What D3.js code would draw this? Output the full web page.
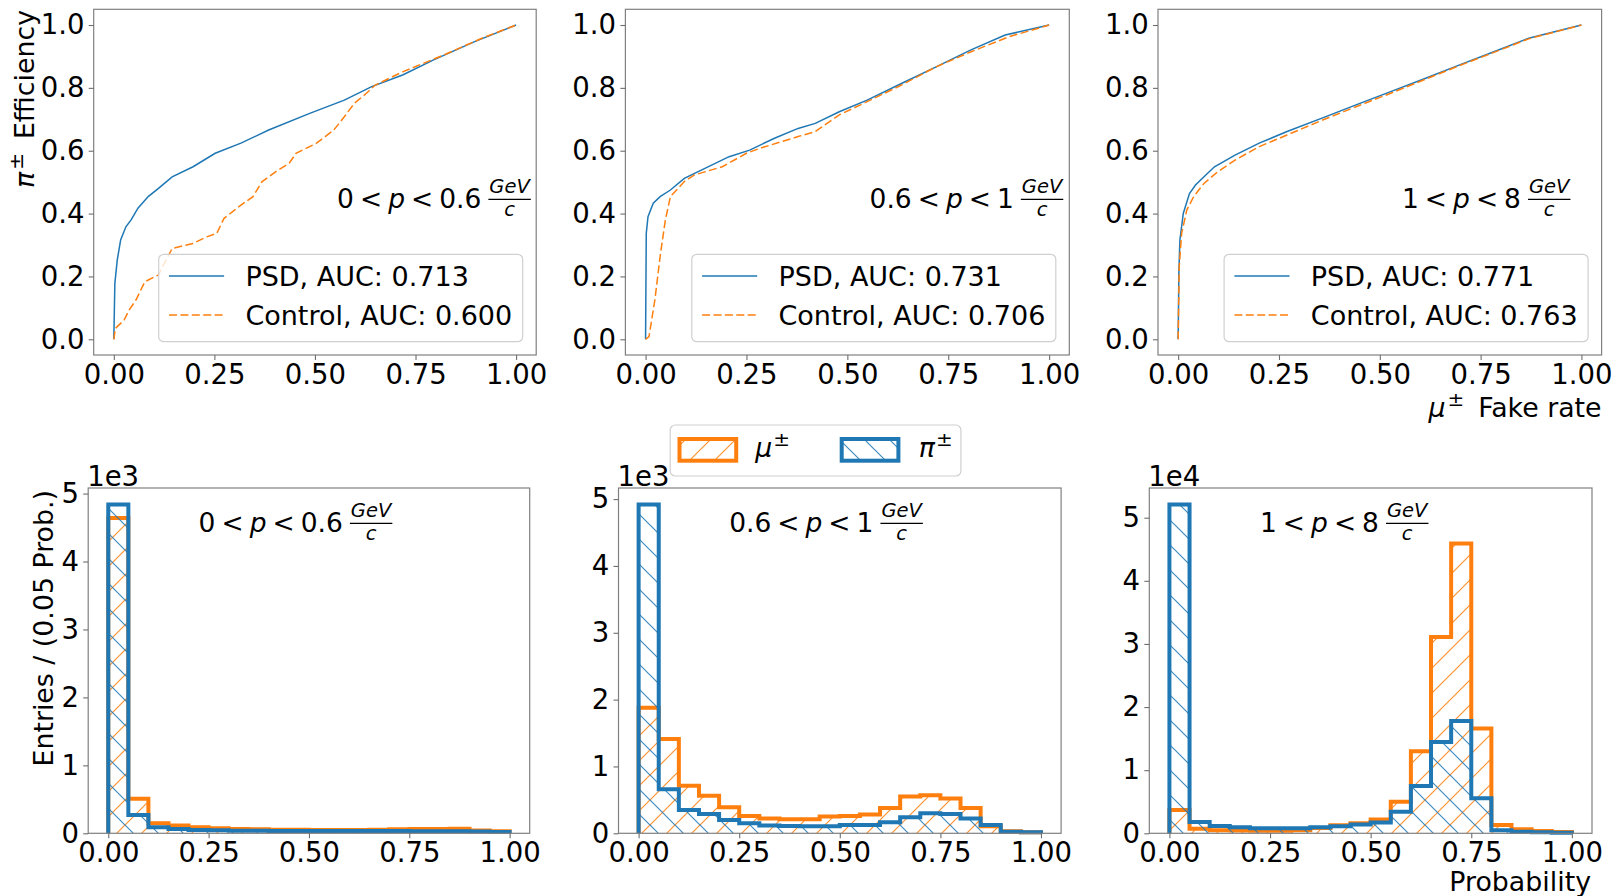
<!DOCTYPE html>
<html lang="en">
<head>
<meta charset="UTF-8">
<title>PSD ROC curves and probability histograms</title>
<script src="https://d3js.org/d3.v7.min.js"></script>
<style>
  html, body { margin: 0; padding: 0; background: #fff; overflow: hidden; }
  svg { display: block; font-family: 'DejaVu Sans', sans-serif; }
</style>
</head>
<body>
<div id="chart"></div>
<script>
// ROC curves, points are [mu fake rate, pi efficiency]
const rocPsdLow = [[0,0],[0.0026,0.178],[0.0085,0.252],[0.017,0.316],[0.030,0.358],[0.043,0.380],[0.060,0.417],[0.0855,0.454],[0.111,0.480],[0.145,0.517],[0.197,0.549],[0.252,0.592],[0.316,0.624],[0.385,0.666],[0.487,0.719],[0.573,0.761],[0.641,0.804],[0.718,0.841],[0.795,0.889],[0.897,0.947],[1,1]];
const rocCtrlLow = [[0,0],[0.004,0.035],[0.0256,0.061],[0.038,0.093],[0.055,0.125],[0.077,0.183],[0.111,0.205],[0.145,0.289],[0.197,0.305],[0.231,0.326],[0.256,0.337],[0.274,0.385],[0.316,0.427],[0.346,0.454],[0.368,0.501],[0.402,0.533],[0.436,0.560],[0.453,0.592],[0.504,0.624],[0.547,0.666],[0.573,0.708],[0.598,0.751],[0.628,0.783],[0.650,0.809],[0.718,0.851],[0.821,0.905],[0.915,0.958],[1,1]];
const rocPsdMid = [[0,0],[0.0017,0.337],[0.006,0.390],[0.019,0.433],[0.036,0.454],[0.0615,0.475],[0.096,0.512],[0.147,0.544],[0.207,0.581],[0.258,0.602],[0.318,0.639],[0.378,0.671],[0.4205,0.687],[0.480,0.724],[0.549,0.761],[0.634,0.814],[0.720,0.867],[0.805,0.920],[0.891,0.968],[1,1]];
const rocCtrlMid = [[0,0],[0.0085,0.0085],[0.023,0.125],[0.036,0.263],[0.049,0.380],[0.0615,0.454],[0.096,0.502],[0.121,0.523],[0.190,0.549],[0.250,0.592],[0.284,0.608],[0.378,0.645],[0.4205,0.661],[0.480,0.714],[0.549,0.756],[0.634,0.809],[0.720,0.867],[0.805,0.914],[0.899,0.962],[1,1]];
const rocPsdHigh = [[0,0],[0.0017,0.21],[0.0043,0.316],[0.0128,0.401],[0.028,0.464],[0.043,0.491],[0.064,0.517],[0.090,0.549],[0.141,0.586],[0.201,0.624],[0.270,0.661],[0.355,0.703],[0.441,0.746],[0.527,0.788],[0.612,0.830],[0.698,0.873],[0.783,0.915],[0.869,0.958],[1,1]];
const rocCtrlHigh = [[0,0],[0.0026,0.231],[0.0086,0.337],[0.0214,0.411],[0.0385,0.454],[0.064,0.496],[0.098,0.533],[0.141,0.570],[0.201,0.613],[0.270,0.650],[0.355,0.696],[0.441,0.740],[0.527,0.783],[0.612,0.827],[0.698,0.871],[0.783,0.913],[0.869,0.956],[1,1]];

// histogram of PSD probability, 20 bins of 0.05
const binEdges = [0, 0.05, 0.1, 0.15, 0.2, 0.25, 0.3, 0.35, 0.4, 0.45, 0.5, 0.55, 0.6, 0.65, 0.7, 0.75, 0.8, 0.85, 0.9, 0.95, 1.0];
const muLow  = [4640, 510, 147, 113, 88, 74, 64, 59, 54, 54, 49, 49, 49, 52, 60, 62, 65, 68, 40, 30];
const piLow  = [4840, 270, 88, 64, 49, 44, 39, 36, 34, 34, 33, 33, 33, 33, 33, 32, 31, 30, 28, 20];
const muMid  = [1880, 1410, 710, 560, 390, 260, 220, 210, 210, 250, 260, 280, 380, 550, 570, 520, 380, 105, 30, 15];
const piMid  = [4920, 660, 350, 290, 200, 150, 115, 110, 105, 105, 125, 125, 165, 240, 300, 290, 220, 125, 25, 15];
const muHigh = [3700, 740, 500, 450, 420, 420, 500, 850, 1270, 1600, 2200, 5000, 13000, 31100, 45900, 16600, 1300, 630, 370, 200];
const piHigh = [52100, 1800, 1160, 950, 790, 790, 790, 950, 1100, 1400, 1700, 3400, 7500, 14450, 17800, 5540, 470, 260, 160, 100];

const momentumLow = ['0', '0.6', '1'];
const momentumHigh = ['0.6', '1', '8'];
const aucPsd = ['0.713', '0.731', '0.771'];
const aucControl = ['0.600', '0.706', '0.763'];
const histExponent = [3, 3, 4];
const rocTicks = [0, 0.2, 0.4, 0.6, 0.8, 1.0];
const probTicks = [0, 0.25, 0.5, 0.75, 1.0];
const countTicks = [0, 1, 2, 3, 4, 5];

const rocSets = [[rocPsdLow, rocCtrlLow], [rocPsdMid, rocCtrlMid], [rocPsdHigh, rocCtrlHigh]];
const histSets = [[muLow, piLow], [muMid, piMid], [muHigh, piHigh]];

const W = 1621, H = 896;
const blue = '#1f77b4', orange = '#ff7f0e';
const topBoxes = [[93.7, 536.2], [625.4, 1069.3], [1158, 1601.6]];
const topY = [9.3, 355];
const botBoxes = [[88.2, 529.7], [618.5, 1061.1], [1149.3, 1592]];
const botY = [488, 833.3];
const tickFont = 27.5, legendFont = 27, labelFont = 26.8;

const svg = d3.select('#chart').append('svg').attr('width', W).attr('height', H);
const defs = svg.append('defs');

function hatch(id, color, dir) {
  const p = defs.append('pattern').attr('id', id).attr('patternUnits', 'userSpaceOnUse')
    .attr('width', 25).attr('height', 25);
  const d = dir === '/'
    ? 'M-6.25,6.25L6.25,-6.25M0,25L25,0M18.75,31.25L31.25,18.75'
    : 'M-6.25,18.75L6.25,31.25M0,0L25,25M18.75,-6.25L31.25,6.25';
  p.append('path').attr('d', d).attr('fill', 'none').attr('stroke', color)
    .attr('stroke-width', 1.2).attr('stroke-opacity', 0.85);
}
hatch('hatchMu', orange, '/');
hatch('hatchPi', blue, '\\');

function styleAxis(g) {
  g.select('.domain').remove();
  g.selectAll('.tick line').attr('stroke', '#6e6e6e').attr('stroke-width', 1.1);
  g.selectAll('.tick text').attr('font-size', tickFont).attr('fill', '#000')
    .attr('font-family', 'DejaVu Sans, sans-serif');
}

function frame(box, yr) {
  svg.append('rect').attr('x', box[0]).attr('y', yr[0]).attr('width', box[1] - box[0])
    .attr('height', yr[1] - yr[0]).attr('fill', 'none').attr('stroke', '#808080').attr('stroke-width', 1.2);
}

// "lo < p < hi GeV/c" with a stacked fraction
function rangeLabel(x0, base, lo, hi) {
  const g = svg.append('g');
  const t = g.append('text').attr('x', x0).attr('y', base).attr('font-size', 26.5).attr('fill', '#000');
  t.append('tspan').text(lo);
  t.append('tspan').attr('dx', 6).text('<');
  t.append('tspan').attr('dx', 6).attr('font-style', 'italic').text('p');
  t.append('tspan').attr('dx', 6).text('<');
  t.append('tspan').attr('dx', 6).text(hi);
  const bb = t.node().getBBox();
  const fx = bb.x + bb.width + 7;
  const num = g.append('text').attr('font-size', 19.5).attr('font-style', 'italic')
    .attr('y', base - 15).text('GeV');
  const nw = num.node().getComputedTextLength();
  const mid = fx + nw / 2 + 1;
  num.attr('x', mid).attr('text-anchor', 'middle');
  g.append('line').attr('x1', fx).attr('x2', fx + nw + 2).attr('y1', base - 9).attr('y2', base - 9)
    .attr('stroke', '#000').attr('stroke-width', 1.3);
  g.append('text').attr('font-size', 19.5).attr('font-style', 'italic').attr('x', mid)
    .attr('y', base + 7.5).attr('text-anchor', 'middle').text('c');
}

// ---- top row: ROC curves ----
rocSets.forEach((set, i) => {
  const box = topBoxes[i];
  const x = d3.scaleLinear().domain([-0.05, 1.05]).range(box);
  const y = d3.scaleLinear().domain([-0.05, 1.05]).range([topY[1], topY[0]]);
  const line = d3.line().x(d => x(d[0])).y(d => y(d[1]));

  svg.append('path').datum(set[0]).attr('d', line).attr('fill', 'none')
    .attr('stroke', blue).attr('stroke-width', 1.5);
  svg.append('path').datum(set[1]).attr('d', line).attr('fill', 'none')
    .attr('stroke', orange).attr('stroke-width', 1.5).attr('stroke-dasharray', '8,3.4');

  rangeLabel(box[0] + 0.55 * (box[1] - box[0]), 208.3, momentumLow[i], momentumHigh[i]);

  // legend, lower right
  const lw = 364, lh = 87.4, ll = box[1] - 13.5 - lw, lt = topY[1] - 13.3 - lh;
  svg.append('rect').attr('x', ll).attr('y', lt).attr('width', lw).attr('height', lh)
    .attr('rx', 5).attr('fill', '#fff').attr('fill-opacity', 0.8)
    .attr('stroke', '#d0d0d0').attr('stroke-width', 1.2);
  const rows = [['PSD, AUC: ' + aucPsd[i], blue, null], ['Control, AUC: ' + aucControl[i], orange, '8,3.4']];
  rows.forEach((r, k) => {
    const cy = lt + 21.7 + k * 39;
    svg.append('line').attr('x1', ll + 10.3).attr('x2', ll + 65.4).attr('y1', cy).attr('y2', cy)
      .attr('stroke', r[1]).attr('stroke-width', 1.5).attr('stroke-dasharray', r[2]);
    svg.append('text').attr('x', ll + 86.7).attr('y', cy + 9.8).attr('font-size', legendFont)
      .attr('fill', '#000').text(r[0]);
  });

  frame(box, topY);
  svg.append('g').attr('transform', `translate(0,${topY[1]})`)
    .call(d3.axisBottom(x).tickValues(probTicks).tickFormat(d3.format('.2f')).tickSize(5).tickPadding(4))
    .call(styleAxis);
  svg.append('g').attr('transform', `translate(${box[0]},0)`)
    .call(d3.axisLeft(y).tickValues(rocTicks).tickFormat(d3.format('.1f')).tickSize(5).tickPadding(4.3))
    .call(styleAxis);
});

// y label top row
const yl1 = svg.append('text').attr('transform', 'translate(34.4,10) rotate(-90)')
  .attr('text-anchor', 'end').attr('font-size', labelFont).attr('fill', '#000');
yl1.append('tspan').attr('font-style', 'italic').text('π');
yl1.append('tspan').attr('font-size', 20).attr('dy', -11).attr('dx', 2).text('±');
yl1.append('tspan').attr('dy', 11).attr('dx', 14).text('Efficiency');

// x label top row
const xl1 = svg.append('text').attr('x', topBoxes[2][1]).attr('y', 417)
  .attr('text-anchor', 'end').attr('font-size', labelFont).attr('fill', '#000');
xl1.append('tspan').attr('font-style', 'italic').text('μ');
xl1.append('tspan').attr('font-size', 20).attr('dy', -11).attr('dx', 2).text('±');
xl1.append('tspan').attr('dy', 11).attr('dx', 14).text('Fake rate');

// ---- bottom row: histograms ----
function stepPoints(vals, scale) {
  const pts = [[binEdges[0], 0]];
  vals.forEach((v, k) => {
    pts.push([binEdges[k], v / scale]);
    pts.push([binEdges[k + 1], v / scale]);
  });
  pts.push([binEdges[binEdges.length - 1], 0]);
  return pts;
}

histSets.forEach((set, i) => {
  const box = botBoxes[i];
  const scale = Math.pow(10, histExponent[i]);
  const yMax = d3.max(set.flat()) / scale * 1.05;
  const x = d3.scaleLinear().domain([-0.05, 1.05]).range(box);
  const y = d3.scaleLinear().domain([0, yMax]).range([botY[1], botY[0]]);
  const line = d3.line().x(d => x(d[0])).y(d => y(d[1]));

  [[set[0], orange, 'url(#hatchMu)'], [set[1], blue, 'url(#hatchPi)']].forEach(s => {
    const pts = stepPoints(s[0], scale);
    svg.append('path').attr('d', line(pts) + 'Z').attr('fill', s[2]).attr('stroke', 'none');
    svg.append('path').attr('d', line(pts)).attr('fill', 'none').attr('stroke', s[1])
      .attr('stroke-width', 4).attr('stroke-linejoin', 'miter');
  });

  rangeLabel(box[0] + 0.25 * (box[1] - box[0]), 532.3, momentumLow[i], momentumHigh[i]);

  frame(box, botY);
  svg.append('g').attr('transform', `translate(0,${botY[1]})`)
    .call(d3.axisBottom(x).tickValues(probTicks).tickFormat(d3.format('.2f')).tickSize(5).tickPadding(4))
    .call(styleAxis);
  svg.append('g').attr('transform', `translate(${box[0]},0)`)
    .call(d3.axisLeft(y).tickValues(countTicks).tickFormat(d3.format('d')).tickSize(5).tickPadding(4.3))
    .call(styleAxis);

  svg.append('text').attr('x', box[0] - 1).attr('y', 485.5).attr('font-size', tickFont)
    .attr('fill', '#000').text('1e' + histExponent[i]);
});

// y label bottom row
svg.append('text').attr('transform', 'translate(53.4,490) rotate(-90)')
  .attr('text-anchor', 'end').attr('font-size', labelFont).attr('fill', '#000')
  .text('Entries / (0.05 Prob.)');

// x label bottom row
svg.append('text').attr('x', botBoxes[2][1] - 1).attr('y', 890.6)
  .attr('text-anchor', 'end').attr('font-size', labelFont).attr('fill', '#000').text('Probability');

// histogram legend
const lg = { x: 670.2, y: 425, w: 290.7, h: 51 };
svg.append('rect').attr('x', lg.x).attr('y', lg.y).attr('width', lg.w).attr('height', lg.h)
  .attr('rx', 5).attr('fill', '#fff').attr('fill-opacity', 0.8).attr('stroke', '#d0d0d0').attr('stroke-width', 1.2);
[[679.5, orange, 'url(#hatchMu)', 'μ', 755.3], [841.7, blue, 'url(#hatchPi)', 'π', 918.8]].forEach(e => {
  svg.append('rect').attr('x', e[0]).attr('y', 439).attr('width', 56.7).attr('height', 21.7)
    .attr('fill', e[2]).attr('stroke', e[1]).attr('stroke-width', 4);
  const t = svg.append('text').attr('x', e[4]).attr('y', 457).attr('font-size', labelFont).attr('fill', '#000');
  t.append('tspan').attr('font-style', 'italic').text(e[3]);
  t.append('tspan').attr('font-size', 20).attr('dy', -11).attr('dx', 1).text('±');
});
</script>
</body>
</html>
